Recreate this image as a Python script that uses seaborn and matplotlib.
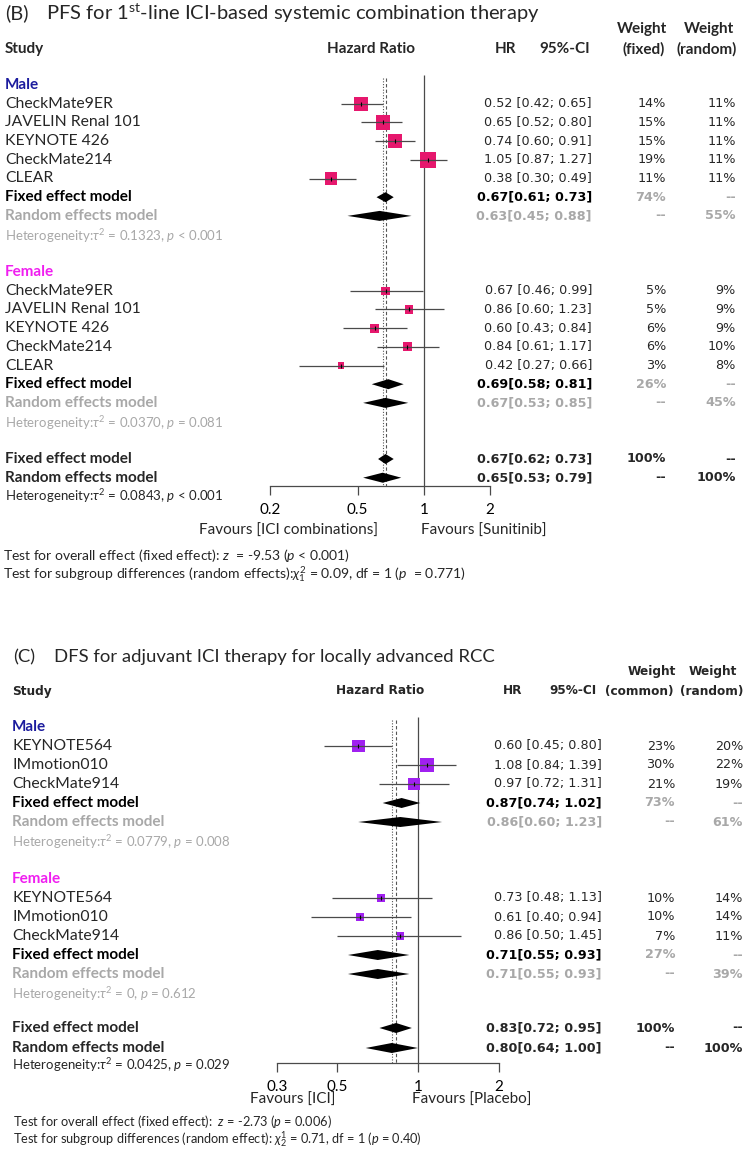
import matplotlib
matplotlib.use('Agg')
import matplotlib.pyplot as plt
from matplotlib.ticker import NullLocator
import seaborn as sns
import pandas as pd

sns.set_theme(style='ticks')
plt.rcParams['font.family'] = ['Lato', 'DejaVu Sans']
plt.rcParams['mathtext.fontset'] = 'custom'
plt.rcParams['mathtext.rm'] = 'Lato'
plt.rcParams['mathtext.it'] = 'Lato:italic'
plt.rcParams['mathtext.bf'] = 'Lato:bold'

# ---------------- panel B data (PFS, 1st-line combination) ----------------
b_studies = ['CheckMate9ER', 'JAVELIN Renal 101', 'KEYNOTE 426', 'CheckMate214', 'CLEAR']
b_male_hr = [0.52, 0.65, 0.74, 1.05, 0.38]
b_male_lo = [0.42, 0.52, 0.60, 0.87, 0.30]
b_male_hi = [0.65, 0.80, 0.91, 1.27, 0.49]
b_male_wf = [14, 15, 15, 19, 11]
b_male_wr = [11, 11, 11, 11, 11]
b_female_hr = [0.67, 0.86, 0.60, 0.84, 0.42]
b_female_lo = [0.46, 0.60, 0.43, 0.61, 0.27]
b_female_hi = [0.99, 1.23, 0.84, 1.17, 0.66]
b_female_wf = [5, 5, 6, 6, 3]
b_female_wr = [9, 9, 9, 10, 8]
# summary estimates: hr, lo, hi
b_male_fixed = [0.67, 0.61, 0.73]
b_male_random = [0.63, 0.45, 0.88]
b_female_fixed = [0.69, 0.58, 0.81]
b_female_random = [0.67, 0.53, 0.85]
b_all_fixed = [0.67, 0.62, 0.73]
b_all_random = [0.65, 0.53, 0.79]
# weights of summary rows: (fixed, random)
b_male_sw = [('74%', '--'), ('--', '55%')]
b_female_sw = [('26%', '--'), ('--', '45%')]
b_all_sw = [('100%', '--'), ('--', '100%')]
b_het = [r'$\tau^2$ = 0.1323, $p$ < 0.001', r'$\tau^2$ = 0.0370, $p$ = 0.081',
         r'$\tau^2$ = 0.0843, $p$ < 0.001']
b_ticks = [0.2, 0.5, 1, 2]
b_tick_labels = ['0.2', '0.5', '1', '2']

# ---------------- panel C data (DFS, adjuvant) ----------------
c_studies = ['KEYNOTE564', 'IMmotion010', 'CheckMate914']
c_male_hr = [0.60, 1.08, 0.97]
c_male_lo = [0.45, 0.84, 0.72]
c_male_hi = [0.80, 1.39, 1.31]
c_male_wf = [23, 30, 21]
c_male_wr = [20, 22, 19]
c_female_hr = [0.73, 0.61, 0.86]
c_female_lo = [0.48, 0.40, 0.50]
c_female_hi = [1.13, 0.94, 1.45]
c_female_wf = [10, 10, 7]
c_female_wr = [14, 14, 11]
c_male_fixed = [0.87, 0.74, 1.02]
c_male_random = [0.86, 0.60, 1.23]
c_female_fixed = [0.71, 0.55, 0.93]
c_female_random = [0.71, 0.55, 0.93]
c_all_fixed = [0.83, 0.72, 0.95]
c_all_random = [0.80, 0.64, 1.00]
c_male_sw = [('73%', '--'), ('--', '61%')]
c_female_sw = [('27%', '--'), ('--', '39%')]
c_all_sw = [('100%', '--'), ('--', '100%')]
c_het = [r'$\tau^2$ = 0.0779, $p$ = 0.008', r'$\tau^2$ = 0, $p$ = 0.612',
         r'$\tau^2$ = 0.0425, $p$ = 0.029']
c_ticks = [0.3, 0.5, 1, 2]
c_tick_labels = ['0.3', '0.5', '1', '2']

# ---------------- figure ----------------
W, H = 749, 1162
fig = plt.figure(figsize=(W / 100, H / 100), dpi=100)
bg = fig.add_axes([0, 0, 1, 1])
bg.set_xlim(0, W)
bg.set_ylim(H, 0)
bg.axis('off')

GREY = '#a8a8a8'
MALE = '#1c1c9e'
FEMALE = '#f01ef0'
LINE = '#4a4a4a'
NUM = ['DejaVu Sans']
NS = 9.2


def txt(x, y, s, **kw):
    kw.setdefault('va', 'center')
    kw.setdefault('fontsize', 10.5)
    bg.text(x, y, s, **kw)


def forest_axes(x0, x1, top, axis_y, lim, ticks, labels):
    ax = fig.add_axes([x0 / W, 1 - axis_y / H, (x1 - x0) / W, (axis_y - top) / H])
    ax.set_xscale('log')
    ax.set_xlim(*lim)
    ax.set_ylim(axis_y, top)
    ax.patch.set_visible(False)
    for s in ['top', 'right', 'left']:
        ax.spines[s].set_visible(False)
    ax.spines['bottom'].set_color(LINE)
    ax.spines['bottom'].set_linewidth(0.9)
    ax.set_yticks([])
    ax.set_xticks(ticks)
    ax.set_xticklabels(labels)
    ax.xaxis.set_minor_locator(NullLocator())
    ax.tick_params(axis='x', which='major', bottom=True, direction='out', length=6.5,
                   width=0.9, color=LINE, pad=6, labelsize=11, labelcolor='black')
    return ax


def draw_panel(ax, studies, groups, overall, ypos, lab_x, cols, color, side_ref, w_ref,
               vline_span):
    s_ref = (side_ref * 0.72) ** 2
    vcol, wfcol, wrcol = cols
    for g in groups:
        name, ncol, hr, lo, hi, wf, wr, fixed, random, sw, het, rows = g
        txt(lab_x, ypos(rows['label']), name, color=ncol, fontweight='bold', fontsize=11)
        ys = [ypos(r) for r in rows['studies']]
        df = pd.DataFrame({'hr': hr, 'y': ys, 'w': wf})
        sns.scatterplot(data=df, x='hr', y='y', size='w', sizes=(0, s_ref),
                        size_norm=(0, w_ref), marker='s', color=color, linewidth=0,
                        legend=False, ax=ax, zorder=3)
        ax.hlines(ys, lo, hi, color=LINE, lw=0.9, zorder=4)
        ax.scatter(hr, ys, marker='|', s=12, color='black', lw=0.8, zorder=5)
        for i, st in enumerate(studies):
            txt(lab_x, ys[i], st, fontsize=11.3)
            txt(vcol, ys[i], f'{hr[i]:.2f} [{lo[i]:.2f}; {hi[i]:.2f}]', ha='right',
                family=NUM, fontsize=NS)
            txt(wfcol, ys[i], f'{wf[i]}%', ha='right', family=NUM, fontsize=NS)
            txt(wrcol, ys[i], f'{wr[i]}%', ha='right', family=NUM, fontsize=NS)
        for k, (est, lab) in enumerate([(fixed, 'Fixed effect model'),
                                        (random, 'Random effects model')]):
            y = ypos(rows['fixed'] + k)
            c_lab = 'black' if k == 0 else GREY
            ax.fill([est[1], est[0], est[2], est[0]], [y, y - 5, y, y + 5],
                    color='black', lw=0, zorder=3)
            txt(lab_x, y, lab, color=c_lab, fontweight='bold', fontsize=11)
            txt(vcol, y, f'{est[0]:.2f}[{est[1]:.2f}; {est[2]:.2f}]', ha='right',
                family=NUM, fontsize=NS, fontweight='bold', color=c_lab)
            txt(wfcol, y, sw[k][0], ha='right', family=NUM, fontsize=NS,
                fontweight='bold', color=GREY)
            txt(wrcol, y, sw[k][1], ha='right', family=NUM, fontsize=NS,
                fontweight='bold', color=GREY)
        txt(lab_x, ypos(rows['fixed'] + 2) + 1, 'Heterogeneity:' + het, color=GREY,
            fontsize=9.5)
    fixed, random, sw, het, yrows = overall
    for k, (est, lab) in enumerate([(fixed, 'Fixed effect model'),
                                    (random, 'Random effects model')]):
        y = yrows[k]
        ax.fill([est[1], est[0], est[2], est[0]], [y, y - 5, y, y + 5],
                color='black', lw=0, zorder=3)
        txt(lab_x, y, lab, fontweight='bold', fontsize=11)
        txt(vcol, y, f'{est[0]:.2f}[{est[1]:.2f}; {est[2]:.2f}]', ha='right',
            family=NUM, fontsize=NS, fontweight='bold')
        txt(wfcol, y, sw[k][0], ha='right', family=NUM, fontsize=NS, fontweight='bold')
        txt(wrcol, y, sw[k][1], ha='right', family=NUM, fontsize=NS, fontweight='bold')
    txt(lab_x, yrows[2], 'Heterogeneity:' + het, fontsize=9.5)
    # reference lines: no effect, fixed (dashed), random (dotted)
    top, bottom = vline_span
    ax.vlines(1, top, bottom, color=LINE, lw=0.9, zorder=1)
    ax.vlines(fixed[0], top + 3, bottom, color='#555555', lw=0.8, ls=(0, (3, 2)), zorder=1)
    ax.vlines(random[0], top + 3, bottom, color='#555555', lw=0.8, ls=(0, (1, 1.5)),
              zorder=1)
    ax.set_xlabel('')
    ax.set_ylabel('')


# ---------------- panel B ----------------
def yb(r):
    return 85 + 18.7 * r


txt(5, 13, '(B)', fontsize=14.5)
txt(46, 13, r'PFS for 1$^{\mathregular{st}}$-line ICI-based systemic combination therapy',
    fontsize=14.5)
txt(5, 49, 'Study', fontweight='bold', fontsize=11)
txt(371, 49, 'Hazard Ratio', ha='center', fontweight='bold', fontsize=11)
txt(506, 49, 'HR', ha='center', fontweight='bold', fontsize=11)
txt(590, 49, '95%-CI', ha='right', fontweight='bold', fontsize=11)
txt(642, 29, 'Weight', ha='center', fontweight='bold', fontsize=11)
txt(665, 49, '(fixed)', ha='right', fontweight='bold', fontsize=11)
txt(709, 29, 'Weight', ha='center', fontweight='bold', fontsize=11)
txt(737, 49, '(random)', ha='right', fontweight='bold', fontsize=11)

axB = forest_axes(270, 490, 70, 486, (0.2, 2), b_ticks, b_tick_labels)
groupsB = [
    ('Male', MALE, b_male_hr, b_male_lo, b_male_hi, b_male_wf, b_male_wr,
     b_male_fixed, b_male_random, b_male_sw, b_het[0],
     {'label': 0, 'studies': [1, 2, 3, 4, 5], 'fixed': 6}),
    ('Female', FEMALE, b_female_hr, b_female_lo, b_female_hi, b_female_wf, b_female_wr,
     b_female_fixed, b_female_random, b_female_sw, b_het[1],
     {'label': 10, 'studies': [11, 12, 13, 14, 15], 'fixed': 16}),
]
draw_panel(axB, b_studies, groupsB,
           (b_all_fixed, b_all_random, b_all_sw, b_het[2], [yb(20), yb(21), yb(22)]),
           yb, 5, (592, 666, 736), '#e6176d', 16, 19, (75, 486))
txt(378, 531, 'Favours [ICI combinations]', ha='right', fontsize=11)
txt(421, 531, 'Favours [Sunitinib]', ha='left', fontsize=11)
txt(3, 555, r'Test for overall effect (fixed effect): $z$  = -9.53 ($p$ < 0.001)', fontsize=10)
txt(3, 574, r'Test for subgroup differences (random effects):$\chi^2_1$ = 0.09, df = 1 ($p$  = 0.771)',
    fontsize=10.1)

# ---------------- panel C ----------------
def yc(r):
    return 727 + 19 * r


txt(13, 657, '(C)', fontsize=13.3)
txt(54, 657, 'DFS for adjuvant ICI therapy for locally advanced RCC', fontsize=13.3)
hb = dict(fontweight='bold', family=NUM, fontsize=8.7)
txt(12, 691, 'Study', **hb)
txt(380, 691, 'Hazard Ratio', ha='center', **hb)
txt(513, 691, 'HR', ha='center', **hb)
txt(597, 691, '95%-CI', ha='right', **hb)
txt(652, 672, 'Weight', ha='center', **hb)
txt(674, 691, '(common)', ha='right', **hb)
txt(713, 672, 'Weight', ha='center', **hb)
txt(743, 691, '(random)', ha='right', **hb)

axC = forest_axes(277, 499, 700, 1063, (0.3, 2), c_ticks, c_tick_labels)
groupsC = [
    ('Male', MALE, c_male_hr, c_male_lo, c_male_hi, c_male_wf, c_male_wr,
     c_male_fixed, c_male_random, c_male_sw, c_het[0],
     {'label': 0, 'studies': [1, 2, 3], 'fixed': 4}),
    ('Female', FEMALE, c_female_hr, c_female_lo, c_female_hi, c_female_wf, c_female_wr,
     c_female_fixed, c_female_random, c_female_sw, c_het[1],
     {'label': 8, 'studies': [9, 10, 11], 'fixed': 12}),
]
draw_panel(axC, c_studies, groupsC,
           (c_all_fixed, c_all_random, c_all_sw, c_het[2], [1028, 1048, 1065]),
           yc, 12, (602, 675, 743), '#a020f0', 14.7, 30, (717, 1063))
txt(335, 1100, 'Favours [ICI]', ha='right', fontsize=11)
txt(412, 1100, 'Favours [Placebo]', ha='left', fontsize=11)
txt(13, 1122, r'Test for overall effect (fixed effect):  $z$ = -2.73 ($p$ = 0.006)', fontsize=9.2)
txt(13, 1139, r'Test for subgroup differences (random effect): $\chi^1_2$ = 0.71, df = 1 ($p$ = 0.40)',
    fontsize=9.2)

fig.savefig('out.png', dpi=100)
